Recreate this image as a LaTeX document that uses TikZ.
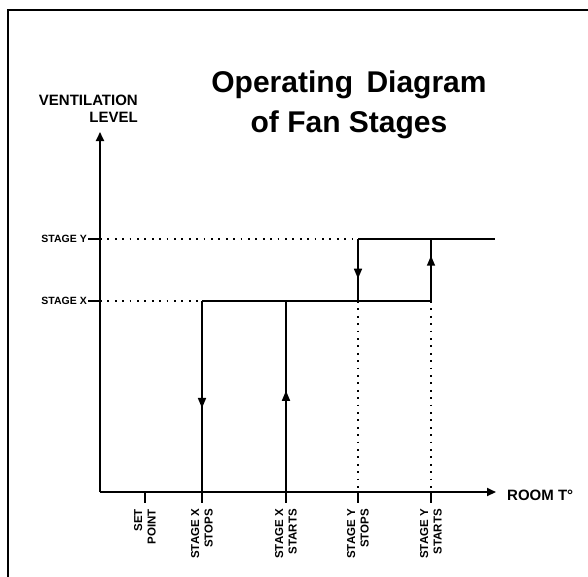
\documentclass[tikz,border=0pt]{standalone}
\usepackage{fontspec}
\setmainfont{Liberation Sans}
\usetikzlibrary{positioning,arrows.meta,calc,decorations.markings}
\tikzset{
  axis/.style={line width=2pt, -{Triangle[length=9pt,width=8pt]}},
  ln/.style={line width=1.6pt},
  dots/.style={line width=1.8pt, dash pattern=on 1.8pt off 5.6pt},
  tck/.style={line width=2pt},
  lvl/.style={font=\bfseries\fontsize{10.5}{12}\selectfont, inner sep=1pt, anchor=east},
  tlbl/.style={font=\bfseries\fontsize{11.5}{13.5}\selectfont, rotate=90, align=right, inner sep=0pt, anchor=east},
  big/.style={font=\bfseries\fontsize{15}{17}\selectfont, inner sep=0pt},
  ttl/.style={font=\bfseries\fontsize{30}{40}\selectfont, align=center, inner sep=0pt},
  marr/.style={postaction={decorate}, decoration={markings, mark=at position #1 with {\arrow{Triangle[length=10pt,width=8pt]}}}},
}

\begin{document}
\begin{tikzpicture}[x=1pt,y=-1pt]
\useasboundingbox (0,0) rectangle (588,576);
% frame
\draw[line width=2.8pt] (8,590) -- (8,10) -- (600,10);
% axes
\coordinate (o) at (100,492);
\coordinate (ytop) at (100,132);
\coordinate (xend) at (496,492);
\draw[axis] (o) -- (ytop);
\draw[axis] (o) -- (xend);
\node[big, align=right, anchor=base east] (vl) at (138,122) {VENTILATION\\LEVEL};
\node[big, anchor=base west] (rt) at (507,500) {ROOM T°};
\node[ttl, anchor=base] (title) at (349,132) {Operating\hspace{0.45em}Diagram\\of Fan Stages};
% levels
\coordinate (lx) at (100,301);
\coordinate (ly) at (100,239);
\node[lvl] (sx) at (88,301) {STAGE X};
\node[lvl] (sy) at (88,239) {STAGE Y};
\draw[tck] (sx.east) -- (lx);
\draw[tck] (sy.east) -- (ly);
% temperatures
\coordinate (sp) at (145,492);
\coordinate (xstop) at (202,492);
\coordinate (xstart) at (286,492);
\coordinate (ystop) at (358,492);
\coordinate (ystart) at (431,492);
\coordinate (yend) at (495,239);
\foreach \c/\t in {sp/{SET\\POINT}, xstop/{STAGE X\\STOPS}, xstart/{STAGE X\\STARTS}, ystop/{STAGE Y\\STOPS}, ystart/{STAGE Y\\STARTS}}{
  \node[tlbl] (l\c) at ($(\c)+(0,17)$) {\t};
  \draw[tck] (\c) -- ++(0,11);
}
% dotted guides
\draw[dots] (ly) -- (ystop |- ly);
\draw[dots] (lx) -- (xstop |- lx);
\draw[dots] (ystop |- lx) -- (ystop);
\draw[dots] (ystart |- lx) -- (ystart);
% stages
\draw[ln] (xstop |- lx) -- (ystart |- lx);
\draw[ln] (ystop |- ly) -- (yend);
\draw[ln, marr=0.56] (xstop |- lx) -- (xstop);
\draw[ln, marr=0.53] (xstart) -- (xstart |- lx);
\draw[ln, marr=0.64] (ystop |- ly) -- (ystop |- lx);
\draw[ln, marr=0.73] (ystart |- lx) -- (ystart |- ly);
\end{tikzpicture}
\end{document}
